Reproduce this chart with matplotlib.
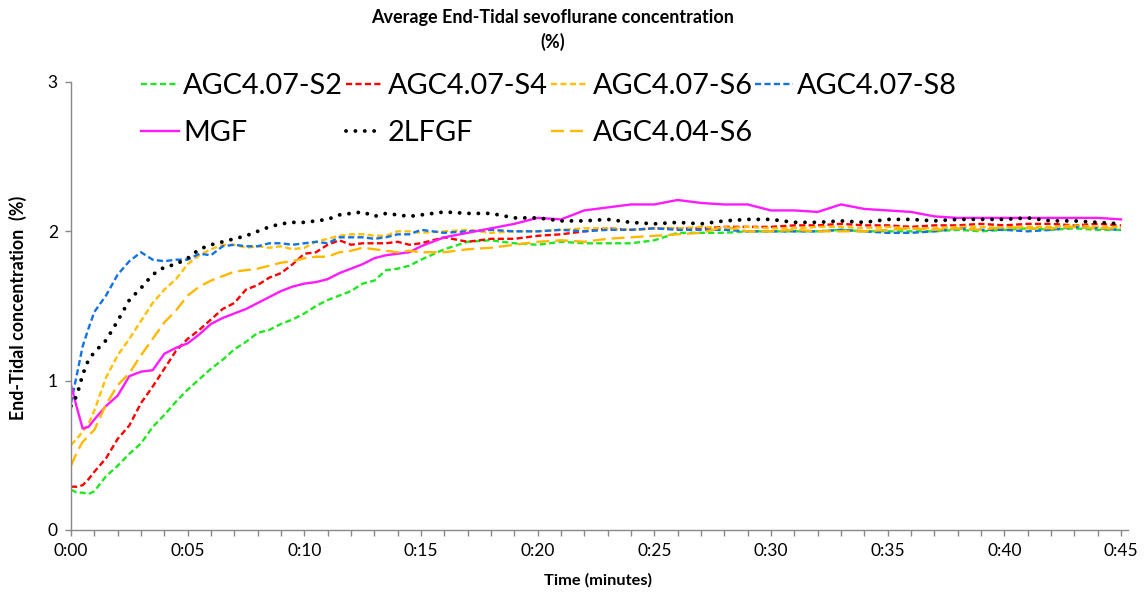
import matplotlib
matplotlib.use("Agg")
import matplotlib.pyplot as plt

# time axis (minutes) and mean end-tidal sevoflurane (%) per setting
time_min = [0, 0.25, 0.5, 0.75, 1, 1.5, 2, 2.5, 3, 3.5, 4, 4.5, 5, 5.5, 6, 6.5,
            7, 7.5, 8, 8.5, 9, 9.5, 10, 10.5, 11, 11.5, 12, 12.5, 13, 13.5, 14,
            14.5, 15, 16, 17, 18, 19, 20, 21, 22, 23, 24, 25, 26, 27, 28, 29,
            30, 31, 32, 33, 34, 35, 36, 37, 38, 39, 40, 41, 42, 43, 44, 45]

agc407_s2 = [0.27, 0.25, 0.25, 0.24, 0.26, 0.36, 0.43, 0.51, 0.58, 0.69, 0.77,
             0.86, 0.94, 1.01, 1.08, 1.14, 1.21, 1.26, 1.32, 1.34, 1.38, 1.41,
             1.45, 1.50, 1.54, 1.57, 1.60, 1.65, 1.67, 1.74, 1.75, 1.77, 1.81,
             1.88, 1.93, 1.94, 1.92, 1.91, 1.93, 1.92, 1.92, 1.92, 1.94,
             1.99, 1.99, 1.99, 2.00, 2.00, 2.00, 2.00, 2.01, 2.00, 2.00,
             2.00, 2.00, 2.01, 2.00, 2.01, 2.02, 2.01, 2.02, 2.01, 2.01]
agc407_s4 = [0.29, 0.29, 0.30, 0.34, 0.39, 0.48, 0.61, 0.70, 0.85, 0.96, 1.08,
             1.20, 1.28, 1.34, 1.41, 1.48, 1.52, 1.61, 1.64, 1.69, 1.72, 1.78,
             1.85, 1.86, 1.91, 1.94, 1.91, 1.92, 1.92, 1.92, 1.93, 1.91, 1.92,
             1.96, 1.93, 1.95, 1.95, 1.97, 1.98, 2.00, 2.02, 2.01, 2.02,
             2.02, 2.02, 2.03, 2.03, 2.03, 2.04, 2.04, 2.05, 2.04, 2.04,
             2.03, 2.04, 2.04, 2.05, 2.04, 2.05, 2.05, 2.04, 2.05, 2.04]
agc407_s6 = [0.57, 0.61, 0.66, 0.71, 0.80, 1.02, 1.17, 1.28, 1.40, 1.52, 1.61,
             1.68, 1.78, 1.84, 1.88, 1.91, 1.91, 1.89, 1.90, 1.89, 1.90, 1.88,
             1.89, 1.93, 1.95, 1.97, 1.98, 1.98, 1.97, 1.97, 2.00, 2.00, 1.99,
             2.00, 2.01, 1.99, 2.00, 2.00, 2.01, 2.02, 2.02, 2.01, 2.02,
             2.02, 2.03, 2.02, 2.03, 2.02, 2.02, 2.03, 2.03, 2.02, 2.03,
             2.02, 2.02, 2.03, 2.03, 2.02, 2.03, 2.03, 2.04, 2.03, 2.03]
agc407_s8 = [0.85, 1.04, 1.23, 1.35, 1.46, 1.57, 1.71, 1.80, 1.86, 1.81, 1.80,
             1.81, 1.81, 1.85, 1.84, 1.90, 1.91, 1.90, 1.90, 1.92, 1.92, 1.91,
             1.92, 1.93, 1.92, 1.96, 1.96, 1.96, 1.95, 1.96, 1.98, 1.98, 2.01,
             1.99, 2.00, 2.01, 2.00, 2.00, 2.01, 2.00, 2.01, 2.01, 2.02,
             2.01, 2.01, 2.01, 2.00, 2.00, 2.00, 2.00, 2.01, 2.00, 1.99,
             1.99, 2.00, 2.02, 2.01, 2.01, 2.00, 2.01, 2.03, 2.02, 2.01]
mgf = [0.97, 0.82, 0.68, 0.69, 0.74, 0.83, 0.90, 1.03, 1.06, 1.07, 1.18,
       1.22, 1.25, 1.31, 1.38, 1.42, 1.45, 1.48, 1.52, 1.56, 1.60, 1.63,
       1.65, 1.66, 1.68, 1.72, 1.75, 1.78, 1.82, 1.84, 1.85, 1.86, 1.90,
       1.96, 1.99, 2.02, 2.05, 2.09, 2.08, 2.14, 2.16, 2.18, 2.18,
       2.21, 2.19, 2.18, 2.18, 2.14, 2.14, 2.13, 2.18, 2.15, 2.14,
       2.13, 2.10, 2.09, 2.09, 2.09, 2.09, 2.09, 2.09, 2.09, 2.08]
lfgf_2 = [0.83, 0.90, 1.04, 1.14, 1.19, 1.27, 1.40, 1.54, 1.62, 1.71, 1.76,
          1.78, 1.82, 1.88, 1.91, 1.93, 1.95, 1.97, 2.00, 2.03, 2.05, 2.06,
          2.06, 2.07, 2.08, 2.11, 2.12, 2.13, 2.10, 2.12, 2.11, 2.10, 2.11,
          2.13, 2.12, 2.12, 2.09, 2.09, 2.07, 2.07, 2.08, 2.06, 2.05,
          2.06, 2.05, 2.07, 2.08, 2.08, 2.06, 2.06, 2.07, 2.06, 2.08,
          2.08, 2.07, 2.08, 2.08, 2.08, 2.09, 2.07, 2.07, 2.06, 2.05]
agc404_s6 = [0.43, 0.52, 0.59, 0.63, 0.67, 0.84, 0.97, 1.05, 1.17, 1.28, 1.39,
             1.47, 1.57, 1.63, 1.67, 1.70, 1.73, 1.74, 1.75, 1.77, 1.79, 1.80,
             1.82, 1.83, 1.83, 1.86, 1.87, 1.89, 1.88, 1.87, 1.86, 1.87, 1.86,
             1.86, 1.88, 1.89, 1.91, 1.93, 1.94, 1.93, 1.95, 1.96, 1.97,
             1.98, 1.99, 2.03, 2.00, 2.00, 2.01, 2.00, 2.00, 2.00, 2.01,
             2.02, 2.01, 2.02, 2.01, 2.03, 2.02, 2.02, 2.03, 2.02, 2.02]

x_major = [0, 5, 10, 15, 20, 25, 30, 35, 40, 45]
x_labels = ["0:00", "0:05", "0:10", "0:15", "0:20", "0:25", "0:30", "0:35",
            "0:40", "0:45"]
y_ticks = [0, 1, 2, 3]

plt.rcParams["font.family"] = ["Lato", "DejaVu Sans"]

fig = plt.figure(figsize=(11.48, 5.96), dpi=100)
ax = fig.add_axes([71 / 1148, 1 - 530 / 596, 1057 / 1148, 448 / 596])

GREY = "#898989"
LW = 1.7
short_dash = (0, (2.6, 1.4))

series = [
    ("AGC4.07-S2", agc407_s2, dict(color="#22E622", linestyle=short_dash)),
    ("AGC4.07-S4", agc407_s4, dict(color="#FF0000", linestyle=short_dash)),
    ("AGC4.07-S6", agc407_s6, dict(color="#FFC000", linestyle=short_dash)),
    ("AGC4.07-S8", agc407_s8, dict(color="#1272E6", linestyle=short_dash)),
    ("MGF", mgf, dict(color="#FF1AFF", linestyle="-")),
    ("2LFGF", lfgf_2, dict(color="black", linestyle=(0, (0.01, 2.4)),
                           linewidth=2.8, dash_capstyle="round")),
    ("AGC4.04-S6", agc404_s6, dict(color="#FFB800", linestyle=(0, (5.5, 2.5)))),
]

handles = {}
for name, vals, style in series:
    style.setdefault("linewidth", LW)
    (line,) = ax.plot(time_min, vals, label=name, **style)
    handles[name] = line

ax.set_xlim(0, 45.3)
ax.set_ylim(0, 3)
ax.set_xticks(x_major)
ax.set_xticklabels(x_labels)
ax.set_xticks(range(0, 46), minor=True)
ax.set_yticks(y_ticks)
ax.set_yticklabels([str(v) for v in y_ticks])
ax.tick_params(axis="both", which="both", direction="out", length=4.5,
               width=1, color=GREY, labelsize=12.5, pad=5)
for side in ("top", "right"):
    ax.spines[side].set_visible(False)
for side in ("left", "bottom"):
    ax.spines[side].set_color(GREY)
    ax.spines[side].set_linewidth(1)

# matplotlib fills legend columns first, so interleave the two rows
order = ["AGC4.07-S2", "MGF", "AGC4.07-S4", "2LFGF", "AGC4.07-S6",
         "AGC4.04-S6", "AGC4.07-S8"]
fig.legend([handles[n] for n in order], order, loc="upper left",
           bbox_to_anchor=(141 / 1148, 1 - 73 / 596), ncol=4, frameon=False,
           fontsize=20.8, handlelength=1.3, handletextpad=0.15,
           columnspacing=0.1, labelspacing=0.72, borderpad=0, borderaxespad=0)

fig.text(553 / 1148, 1 - 9 / 596, "Average End-Tidal sevoflurane concentration\n(%)",
         ha="center", va="top", fontsize=13, fontweight="bold",
         linespacing=1.45)
fig.text(18 / 1148, 1 - 308 / 596, "End-Tidal concentration  (%)",
         rotation=90, ha="center", va="center", fontsize=12.8,
         fontweight="bold")
fig.text(598 / 1148, 1 - 580 / 596, "Time (minutes)", ha="center",
         va="center", fontsize=11.8, fontweight="bold")

fig.savefig("out.png", dpi=100)
